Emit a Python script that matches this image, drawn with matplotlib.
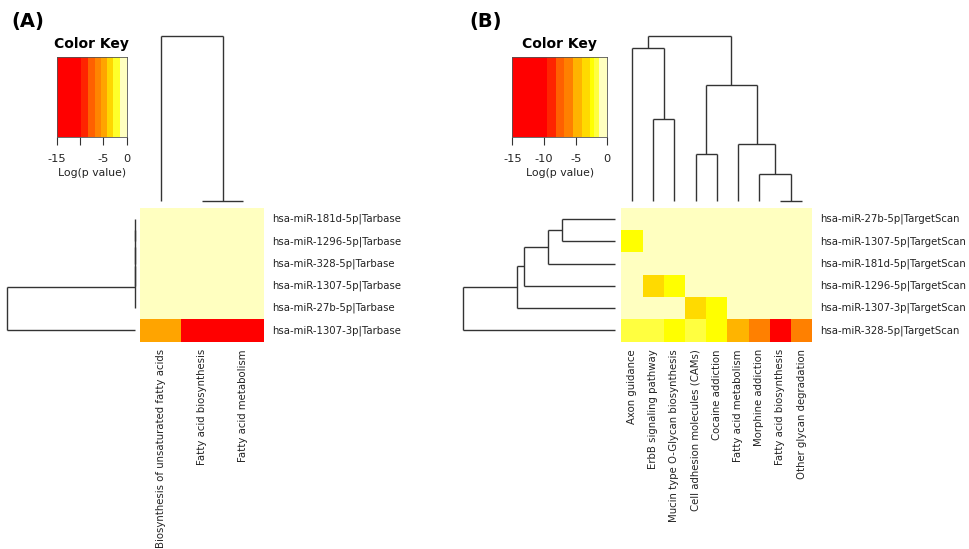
import numpy as np
import matplotlib
matplotlib.use("Agg")
import matplotlib.pyplot as plt
from matplotlib.colors import ListedColormap, BoundaryNorm

# ---------------- data ----------------
rows_A = ["hsa-miR-181d-5p|Tarbase", "hsa-miR-1296-5p|Tarbase", "hsa-miR-328-5p|Tarbase",
          "hsa-miR-1307-5p|Tarbase", "hsa-miR-27b-5p|Tarbase", "hsa-miR-1307-3p|Tarbase"]
cols_A = ["Biosynthesis of unsaturated fatty acids", "Fatty acid biosynthesis", "Fatty acid metabolism"]
vals_A = [[-0.3, -0.3, -0.3],
          [-0.3, -0.3, -0.3],
          [-0.3, -0.3, -0.3],
          [-0.3, -0.3, -0.3],
          [-0.3, -0.3, -0.3],
          [-4.9, -12.5, -12.5]]

rows_B = ["hsa-miR-27b-5p|TargetScan", "hsa-miR-1307-5p|TargetScan", "hsa-miR-181d-5p|TargetScan",
          "hsa-miR-1296-5p|TargetScan", "hsa-miR-1307-3p|TargetScan", "hsa-miR-328-5p|TargetScan"]
cols_B = ["Axon guidance", "ErbB signaling pathway", "Mucin type O-Glycan biosynthesis",
          "Cell adhesion molecules (CAMs)", "Cocaine addiction", "Fatty acid metabolism",
          "Morphine addiction", "Fatty acid biosynthesis", "Other glycan degradation"]
vals_B = [[-0.3, -0.3, -0.3, -0.3, -0.3, -0.3, -0.3, -0.3, -0.3],
          [-2.4, -0.3, -0.3, -0.3, -0.3, -0.3, -0.3, -0.3, -0.3],
          [-0.3, -0.3, -0.3, -0.3, -0.3, -0.3, -0.3, -0.3, -0.3],
          [-0.3, -3.4, -2.3, -0.3, -0.3, -0.3, -0.3, -0.3, -0.3],
          [-0.3, -0.3, -0.3, -3.3, -2.4, -0.3, -0.3, -0.3, -0.3],
          [-1.7, -1.7, -2.2, -1.6, -2.5, -4.7, -6.1, -11.2, -6.3]]

# color keys (breaks in log p)
breaks_A = [-15, -9.9, -8.27, -6.83, -5.54, -4.19, -2.9, -1.46, 0]
colors_A = ["#FF0000", "#FF2400", "#FF6000", "#FF8400", "#FFA400", "#FFD600", "#FFFF2A", "#FFFFC0"]
breaks_B = [-15, -9.47, -8.12, -6.77, -5.41, -4.06, -2.71, -2.05, -1.35, 0]
colors_B = ["#FF0000", "#FF2400", "#FF6000", "#FF8000", "#FFB400", "#FFDA00", "#FFFF00", "#FFFF40", "#FFFFC0"]
key_ticks = [-15, -10, -5, 0]
key_ticklabels_A = ["-15", "", "-5", "0"]
key_ticklabels_B = ["-15", "-10", "-5", "0"]

# dendrograms: [left, right, height], leaves = display index
col_tree_A = [0, [1, 2, 0.0], 1.0]
row_tree_A = [[[[[0, 1, 0.0], 2, 0.0], 3, 0.0], 4, 0.0], 5, 1.0]
col_tree_B = [[0, [1, 2, 0.495], 0.927], [[3, 4, 0.283], [5, [6, [7, 8, 0.0], 0.162], 0.345], 0.703], 1.0]
row_tree_B = [[[[[0, 1, 0.349], 2, 0.445], 3, 0.599], 4, 0.649], 5, 1.0]

# ---------------- drawing ----------------
W, H = 969, 549
fig = plt.figure(figsize=(W / 100, H / 100), dpi=100)
fig.patch.set_facecolor("white")

def ax_px(x0, y0, x1, y1):
    return fig.add_axes([x0 / W, 1 - y1 / H, (x1 - x0) / W, (y1 - y0) / H])

def txt(x, y, s, **kw):
    fig.text(x / W, 1 - y / H, s, **kw)

LC = "#333333"
LW = 1.0

def draw_dendro(ax, tree, orient):
    def seg(p0, h0, p1, h1):
        if orient == "top":
            ax.plot([p0, p1], [h0, h1], color=LC, lw=LW, clip_on=False, solid_capstyle="butt")
        else:
            ax.plot([h0, h1], [p0, p1], color=LC, lw=LW, clip_on=False, solid_capstyle="butt")
    def rec(node):
        if isinstance(node, int):
            return node + 0.5, 0.0
        l, r, h = node
        pl, hl = rec(l)
        pr, hr = rec(r)
        seg(pl, hl, pl, h)
        seg(pr, hr, pr, h)
        seg(pl, h, pr, h)
        return (pl + pr) / 2, h
    rec(tree)
    ax.axis("off")

def panel(label, lab_x, key_box, heat_box, coldend_top, rowdend_left, rowdend_right,
          rows, cols, vals, breaks, colors, ticklabels, col_tree, row_tree):
    cmap = ListedColormap(colors)
    norm = BoundaryNorm(breaks, cmap.N)
    txt(lab_x, 21, label, fontsize=14, fontweight="bold", ha="left", va="center")

    # color key
    kx0, ky0, kx1, ky1 = key_box
    kax = ax_px(kx0, ky0, kx1, ky1)
    mids = [(breaks[i] + breaks[i + 1]) / 2 for i in range(len(breaks) - 1)]
    kax.pcolormesh(breaks, [0, 1], np.array([mids]), cmap=cmap, norm=norm,
                   antialiased=False, linewidth=0)
    kax.set_xlim(-15, 0)
    kax.set_ylim(0, 1)
    kax.set_yticks([])
    kax.set_xticks(key_ticks)
    kax.set_xticklabels(ticklabels, fontsize=8.2)
    kax.tick_params(axis="x", length=5.8, width=0.8, color="#333333", pad=6.5, labelcolor="#222222")
    for sp in kax.spines.values():
        sp.set_color("#555555")
        sp.set_linewidth(0.6)
    kcx = (kx0 + kx1) / 2
    txt(kcx, 44, "Color Key", fontsize=10, fontweight="bold", ha="center", va="center")
    txt(kcx, 173.5, "Log(p value)", fontsize=7.8, ha="center", va="center", color="#222222")

    # heatmap
    hx0, hy0, hx1, hy1 = heat_box
    hax = ax_px(hx0, hy0, hx1, hy1)
    data = np.array(vals)
    nr, nc = data.shape
    hax.pcolormesh(np.arange(nc + 1), np.arange(nr + 1), data, cmap=cmap, norm=norm,
                   antialiased=False, linewidth=0)
    hax.set_xlim(0, nc)
    hax.set_ylim(nr, 0)
    hax.axis("off")

    rh = (hy1 - hy0) / nr
    cw = (hx1 - hx0) / nc
    for i, r in enumerate(rows):
        txt(hx1 + 8, hy0 + rh * (i + 0.5), r, fontsize=7.3, ha="left", va="center", color="#222222")
    for j, c in enumerate(cols):
        txt(hx0 + cw * (j + 0.5), hy1 + 7.5, c, fontsize=7.3, rotation=90,
            ha="center", va="top", color="#222222")

    # column dendrogram
    cax = ax_px(hx0, coldend_top, hx1, 201)
    cax.set_xlim(0, nc)
    cax.set_ylim(0, 1.0)
    draw_dendro(cax, col_tree, "top")

    # row dendrogram
    rax = ax_px(rowdend_left, hy0, rowdend_right, hy1)
    rax.set_xlim(1.0, 0)
    rax.set_ylim(nr, 0)
    draw_dendro(rax, row_tree, "left")

panel("(A)", 11, (57, 57, 126.7, 137), (140, 208, 264, 341.5), 36, 7, 135,
      rows_A, cols_A, vals_A, breaks_A, colors_A, key_ticklabels_A, col_tree_A, row_tree_A)
panel("(B)", 469, (512.3, 57, 607.3, 137), (621.3, 208, 812.3, 341.5), 36, 463.3, 615.3,
      rows_B, cols_B, vals_B, breaks_B, colors_B, key_ticklabels_B, col_tree_B, row_tree_B)

fig.savefig("out.png", dpi=100, facecolor="white")
